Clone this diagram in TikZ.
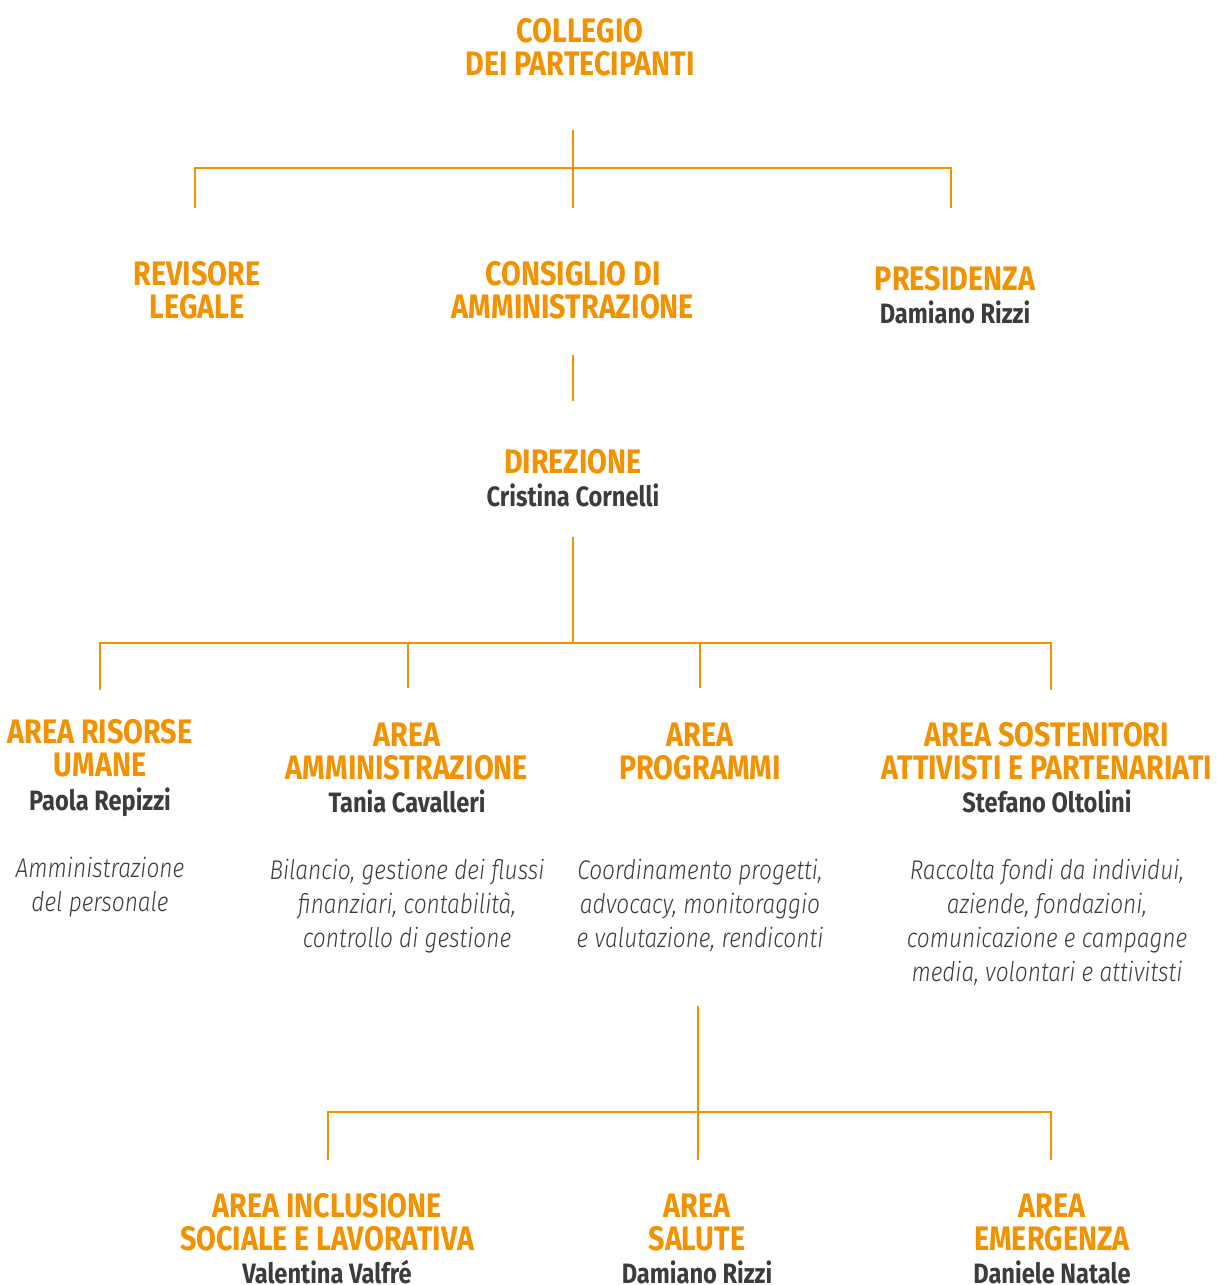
\documentclass[tikz,border=0pt]{standalone}
\usepackage{fontspec}
\setmainfont{Fira Sans}
\newfontfamily\cf[FakeStretch=0.845]{Fira Sans}
\newfontfamily\lf[FakeStretch=0.84]{Fira Sans Light}
\definecolor{org}{HTML}{F39200}
\definecolor{gry}{HTML}{3C3C3B}
\tikzset{
  head/.style={align=center, text=org, font=\cf\bfseries\fontsize{34}{33}\selectfont, inner sep=0pt, anchor=base},
  pname/.style={align=center, text=gry, font=\cf\bfseries\fontsize{28}{33}\selectfont, inner sep=0pt, anchor=base},
  desc/.style={align=center, text=gry, font=\lf\itshape\fontsize{27}{34}\selectfont, inner sep=0pt, anchor=base},
  conn/.style={draw=org, line width=1.8pt}
}
\begin{document}
\begin{tikzpicture}[x=1pt,y=-1pt]
\useasboundingbox (0,0) rectangle (1216,1285);
% level 0 (base anchor = baseline of last line)
\node[head] (col) at (580,75) {COLLEGIO\\DEI PARTECIPANTI};
% level 1
\node[head] (rev) at (197,318) {REVISORE\\LEGALE};
\node[head] (cda) at (573,318) {CONSIGLIO DI\\AMMINISTRAZIONE};
\node[head] (pres) at (955,290) {PRESIDENZA};
\node[pname] (presn) at (955,323) {Damiano Rizzi};
% level 2
\node[head] (dir) at (573,473) {DIREZIONE};
\node[pname] (dirn) at (573,506) {Cristina Cornelli};
% level 3
\node[head] (hr) at (100,776) {AREA RISORSE\\UMANE};
\node[pname] (hrn) at (100,810) {Paola Repizzi};
\node[desc] (hrd) at (100,911) {Amministrazione\\del personale};
\node[head] (amm) at (407,779) {AREA\\AMMINISTRAZIONE};
\node[pname] (ammn) at (407,812) {Tania Cavalleri};
\node[desc] (ammd) at (407,947) {Bilancio, gestione dei flussi\\finanziari, contabilità,\\controllo di gestione};
\node[head] (prg) at (700,779) {AREA\\PROGRAMMI};
\node[desc] (prgd) at (700,947) {Coordinamento progetti,\\advocacy, monitoraggio\\e valutazione, rendiconti};
\node[head] (sos) at (1047,779) {AREA SOSTENITORI\\ATTIVISTI E PARTENARIATI};
\node[pname] (sosn) at (1047,812) {Stefano Oltolini};
\node[desc] (sosd) at (1047,981) {Raccolta fondi da individui,\\aziende, fondazioni,\\comunicazione e campagne\\media, volontari e attivitsti};
% level 4
\node[head] (inc) at (327,1250) {AREA INCLUSIONE\\SOCIALE E LAVORATIVA};
\node[pname] (incn) at (327,1283) {Valentina Valfré};
\node[head] (sal) at (697,1250) {AREA\\SALUTE};
\node[pname] (saln) at (697,1283) {Damiano Rizzi};
\node[head] (eme) at (1052,1250) {AREA\\EMERGENZA};
\node[pname] (emen) at (1052,1283) {Daniele Natale};
% connector points
\coordinate (a0) at (573,130);
\coordinate (a1) at (573,208);
\coordinate (aL) at (195,168);
\coordinate (aR) at (951,168);
\coordinate (aLe) at (195,208);
\coordinate (aRe) at (951,208);
\coordinate (b0) at (573,355);
\coordinate (b1) at (573,401);
\coordinate (c0) at (573,537);
\coordinate (c1) at (573,643);
\coordinate (cL) at (100,643);
\coordinate (cR) at (1051,643);
\coordinate (c1e) at (100,690);
\coordinate (c2) at (408,643);
\coordinate (c2e) at (408,688);
\coordinate (c3) at (700,643);
\coordinate (c3e) at (700,688);
\coordinate (c4e) at (1051,690);
\coordinate (d0) at (698,1006);
\coordinate (d1) at (698,1160);
\coordinate (dL) at (328,1112);
\coordinate (dR) at (1051,1112);
\coordinate (dLe) at (328,1160);
\coordinate (dRe) at (1051,1160);
% connectors
\draw[conn] (a0) -- (a1);
\draw[conn] (aLe) -- (aL) -- (aR) -- (aRe);
\draw[conn] (b0) -- (b1);
\draw[conn] (c0) -- (c1);
\draw[conn] (c1e) -- (cL) -- (cR) -- (c4e);
\draw[conn] (c2) -- (c2e);
\draw[conn] (c3) -- (c3e);
\draw[conn] (d0) -- (d1);
\draw[conn] (dLe) -- (dL) -- (dR) -- (dRe);
\end{tikzpicture}
\end{document}
